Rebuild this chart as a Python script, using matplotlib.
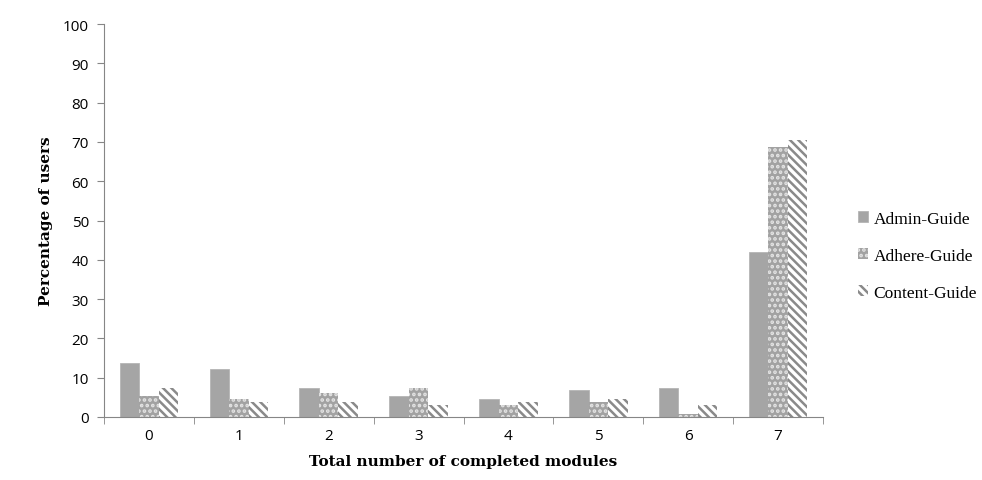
import numpy as np
import matplotlib.pyplot as plt

# Data
modules = ["0", "1", "2", "3", "4", "5", "6", "7"]
admin_guide = [13.7, 12.1, 7.5, 5.3, 4.5, 6.9, 7.5, 41.9]
adhere_guide = [5.3, 4.5, 6.0, 7.5, 3.0, 3.9, 0.8, 68.8]
content_guide = [7.5, 3.9, 3.9, 3.0, 3.9, 4.5, 3.0, 70.5]
y_ticks = [0, 10, 20, 30, 40, 50, 60, 70, 80, 90, 100]

plt.rcParams["hatch.linewidth"] = 1.8

fig = plt.figure(figsize=(9.82, 4.81), dpi=100)
ax = fig.add_axes([0.106, 0.131, 0.732, 0.817])

x = np.arange(len(modules))
w = 0.217

ax.bar(x - w, admin_guide, w, color="#a5a5a5", edgecolor="#b5b5b5",
       linewidth=0.6, label="Admin-Guide")
ax.bar(x, adhere_guide, w, color="#a2a2a2", edgecolor="#e4e4e4",
       linewidth=0, hatch="...", label="Adhere-Guide")
ax.bar(x + w, content_guide, w, color="white", edgecolor="#8a8a8a",
       linewidth=0, hatch="\\\\\\\\", label="Content-Guide")

ax.set_xlim(-0.5, len(modules) - 0.5)
ax.set_ylim(0, 100)
ax.set_yticks(y_ticks)
ax.set_xticks(x)
ax.set_xticklabels(modules)
ax.set_xticks(np.arange(len(modules) + 1) - 0.5, minor=True)
ax.tick_params(axis="x", which="major", length=0, pad=8)
ax.tick_params(axis="x", which="minor", length=5, color="#868686", direction="out")
ax.tick_params(axis="y", length=5, color="#868686", pad=6)
for lab in ax.get_xticklabels() + ax.get_yticklabels():
    lab.set_family("Open Sans")
    lab.set_fontsize(11)

for s in ["top", "right"]:
    ax.spines[s].set_visible(False)
for s in ["left", "bottom"]:
    ax.spines[s].set_color("#868686")

ax.set_ylabel("Percentage of users", family="DejaVu Serif", fontweight="bold",
              fontsize=11, labelpad=7)
ax.set_xlabel("Total number of completed modules", family="DejaVu Serif",
              fontweight="bold", fontsize=11, labelpad=8)

leg = ax.legend(loc="center left", bbox_to_anchor=(1.027, 0.41), frameon=False,
                prop={"family": "Liberation Serif", "size": 12.5},
                handlelength=0.6, handleheight=0.6, handletextpad=0.3,
                labelspacing=1.2)

fig.savefig("out.png", dpi=100)
